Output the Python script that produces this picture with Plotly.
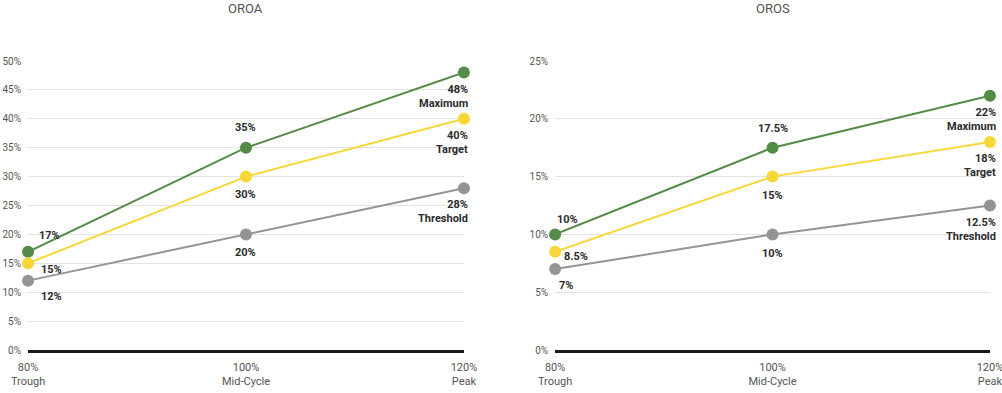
import plotly.graph_objects as go

x_vals = [80, 100, 120]
x_labels = ["80%<br>Trough", "100%<br>Mid-Cycle", "120%<br>Peak"]
series_names = ["Maximum", "Target", "Threshold"]
colors = ["#548c47", "#f7d737", "#949494"]

oroa = {"Maximum": [17, 35, 48], "Target": [15, 30, 40], "Threshold": [12, 20, 28]}
oros = {"Maximum": [10, 17.5, 22], "Target": [8.5, 15, 18], "Threshold": [7, 10, 12.5]}
oroa_ticks = [0, 5, 10, 15, 20, 25, 30, 35, 40, 45, 50]
oros_ticks = [0, 5, 10, 15, 20, 25]

FONT = "Roboto, Liberation Sans, sans-serif"
LABEL_COLOR = "#2b2b2b"

fig = go.Figure()

# label placement: (xanchor, xshift, yshift, yanchor) per series per point
place = {
    "OROA": {
        "Maximum": [("left", 9, 16, "middle"), ("center", 0, 20, "middle"), ("right", 6, -8, "top")],
        "Target": [("left", 11, -6, "middle"), ("center", 0, -18, "middle"), ("right", 6, -8, "top")],
        "Threshold": [("left", 11, -16, "middle"), ("center", 0, -18, "middle"), ("right", 6, -8, "top")],
    },
    "OROS": {
        "Maximum": [("left", 0, 15, "middle"), ("center", 0, 19, "middle"), ("right", 8, -8, "top")],
        "Target": [("left", 7, -5, "middle"), ("center", 0, -19, "middle"), ("right", 8, -8, "top")],
        "Threshold": [("left", 2, -16, "middle"), ("center", 0, -19, "middle"), ("right", 8, -8, "top")],
    },
}

def fmt(v):
    return f"{v:g}%"

annotations = []
for panel, data, xa, ya in [("OROA", oroa, "x", "y"), ("OROS", oros, "x2", "y2")]:
    for name, col in zip(series_names, colors):
        fig.add_trace(go.Scatter(
            x=x_vals, y=data[name], mode="lines+markers", name=name,
            line=dict(color=col, width=2), marker=dict(color=col, size=12),
            xaxis=xa, yaxis=ya, cliponaxis=False, showlegend=False,
        ))
        for i, (xv, yv) in enumerate(zip(x_vals, data[name])):
            xanc, xs, ys, yanc = place[panel][name][i]
            text = f"<b>{fmt(yv)}</b>"
            if i == 2:
                text = f"<b>{fmt(yv)}<br>{name}</b>"
            annotations.append(dict(
                x=xv, y=yv, xref=xa, yref=ya, text=text, showarrow=False,
                xanchor=xanc, yanchor=yanc, xshift=xs, yshift=ys,
                align="right" if i == 2 else "left",
                font=dict(family=FONT, size=11, color=LABEL_COLOR),
            ))

annotations.append(dict(x=0.2455, y=1, xref="paper", yref="paper", yshift=53, text="OROA",
                        showarrow=False, xanchor="center", yanchor="middle",
                        font=dict(family=FONT, size=13, color="#555555")))
annotations.append(dict(x=0.771, y=1, xref="paper", yref="paper", yshift=53, text="OROS",
                        showarrow=False, xanchor="center", yanchor="middle",
                        font=dict(family=FONT, size=13, color="#555555")))

xaxis_common = dict(
    range=[80, 120], tickvals=x_vals, ticktext=x_labels, showgrid=False, zeroline=False,
    showline=True, linecolor="#1a1a1a", linewidth=2.5, ticks="", automargin=False,
    ticklabeloverflow="allow", ticklabelstandoff=5,
    tickfont=dict(family=FONT, size=11, color="#555555"),
)
yaxis_common = dict(
    showgrid=True, gridcolor="#e3e3e3", gridwidth=1, zeroline=False, ticks="", automargin=False,
    ticklabeloverflow="allow",
    tickfont=dict(family=FONT, size=10, color="#555555"), ticklabelstandoff=6,
)

fig.update_layout(
    width=1002, height=393,
    margin=dict(l=0, r=0, t=61, b=43, autoexpand=False),
    paper_bgcolor="white", plot_bgcolor="white",
    font=dict(family=FONT),
    xaxis=dict(domain=[0.028, 0.463], anchor="y", **xaxis_common),
    yaxis=dict(range=[0, 50], tickvals=oroa_ticks, ticktext=[f"{t}%" for t in oroa_ticks],
               anchor="x", **yaxis_common),
    xaxis2=dict(domain=[0.554, 0.988], anchor="y2", **xaxis_common),
    yaxis2=dict(range=[0, 25], tickvals=oros_ticks, ticktext=[f"{t}%" for t in oros_ticks],
                anchor="x2", **yaxis_common),
    annotations=annotations,
)

fig.write_html("out.html", config={"displayModeBar": False},
               post_script="document.body.style.margin='0';")
